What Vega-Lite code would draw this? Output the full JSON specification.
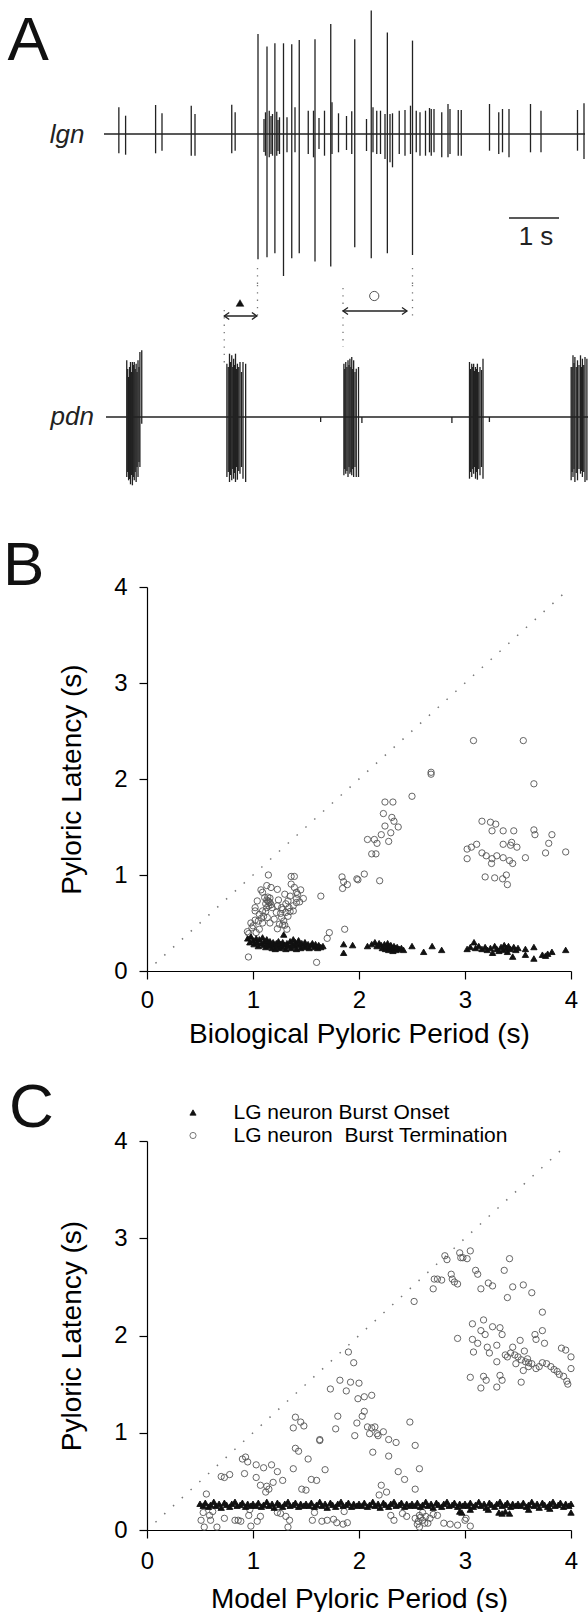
{
"$schema": "https://vega.github.io/schema/vega-lite/v6.json",
"background": "white",
"padding": {"left": 3, "top": 8, "right": 0, "bottom": 0},
"spacing": 0,
"bounds": "flush",
"center": true,
"resolve": {"scale": {"shape": "independent", "fill": "independent", "stroke": "independent"}},
"config": {"view": {"stroke": null}, "font": "Liberation Sans", "title": {"font": "Liberation Sans", "fontWeight": "normal", "color": "black"}},
"datasets": {
"lgnBase": [{"t": 0, "t2": 9.62, "v": 0}],
"pdnBase": [{"t": 0.04, "t2": 9.68, "v": 0}],
"lgnSpikes": [
{"t":0.297,"v":-19.3,"v2":26.7},{"t":0.432,"v":-20.7,"v2":18.3},{"t":1.032,"v":-19.3,"v2":29},{"t":1.16,"v":-16.7,"v2":20.7},{"t":1.745,"v":-21.7,"v2":28.3},{"t":1.82,"v":-21.7,"v2":20},{"t":2.555,"v":-19.3,"v2":29.3},{"t":2.623,"v":-16.7,"v2":21.7},
{"t":3.08,"v":-125.3,"v2":100},{"t":3.26,"v":-123.3,"v2":87.4},{"t":3.418,"v":-119.3,"v2":90.7},{"t":3.59,"v":-142,"v2":90.7},{"t":3.755,"v":-124.3,"v2":89.7},{"t":3.905,"v":-119.3,"v2":94},{"t":4.22,"v":-127.6,"v2":94.7},{"t":4.535,"v":-132.6,"v2":110},{"t":5.015,"v":-113.3,"v2":94.7},{"t":5.345,"v":-124.3,"v2":123.4},{"t":5.667,"v":-119.3,"v2":101.4},{"t":6.17,"v":-121,"v2":93.4},
{"t":3.23,"v":-21.7,"v2":21.7},{"t":3.305,"v":-23.3,"v2":23.3},{"t":3.37,"v":-21.7,"v2":20},{"t":3.455,"v":-21.7,"v2":22.3},{"t":3.51,"v":-20,"v2":16.7},{"t":3.66,"v":-18.3,"v2":16.7},{"t":3.82,"v":-18.3,"v2":26.7},{"t":4.085,"v":-20,"v2":23.3},{"t":4.19,"v":-23.3,"v2":23.3},{"t":4.41,"v":-21.7,"v2":23.3},{"t":4.56,"v":-20,"v2":31.7},{"t":4.69,"v":-18.3,"v2":20.7},{"t":4.955,"v":-20,"v2":22.7},{"t":5.38,"v":-18.3,"v2":26.7},{"t":5.455,"v":-20,"v2":23.3},{"t":5.53,"v":-20,"v2":23.3},{"t":5.62,"v":-25,"v2":20},{"t":5.72,"v":-28.3,"v2":20},{"t":5.77,"v":-33.3,"v2":20.7},{"t":5.905,"v":-20,"v2":23.3},{"t":6.02,"v":-21.7,"v2":24},{"t":6.13,"v":-20,"v2":28.3},{"t":6.245,"v":-18.3,"v2":23.3},
{"t":3.2,"v":-18,"v2":15},{"t":3.34,"v":-20,"v2":18},{"t":3.48,"v":-17,"v2":14},{"t":4.3,"v":-15,"v2":16},{"t":4.85,"v":-16,"v2":18},{"t":5.25,"v":-17,"v2":15},
{"t":6.32,"v":-21.7,"v2":21.7},{"t":6.43,"v":-21.7,"v2":23.3},{"t":6.51,"v":-18.3,"v2":26},{"t":6.545,"v":-21.7,"v2":25},{"t":6.6,"v":-18.3,"v2":25},{"t":6.755,"v":-23.3,"v2":21.7},{"t":6.88,"v":-23.3,"v2":30},{"t":6.92,"v":-20,"v2":25},{"t":7.085,"v":-21.7,"v2":24},{"t":7.145,"v":-21.7,"v2":24},{"t":7.71,"v":-16.7,"v2":30},{"t":7.895,"v":-20,"v2":21.7},{"t":7.97,"v":-18.3,"v2":25},{"t":8.1,"v":-23.3,"v2":25},{"t":8.53,"v":-18.3,"v2":30},{"t":8.74,"v":-18.3,"v2":23.3},{"t":9.47,"v":-16.7,"v2":24},{"t":9.6,"v":-25,"v2":30.7}
],
"pdnSpikes": [
{"t":0.455,"v":-60,"v2":56.7},{"t":0.492,"v":-63.3,"v2":40},{"t":0.53,"v":-67.3,"v2":55},{"t":0.568,"v":-68.3,"v2":55},{"t":0.605,"v":-63.3,"v2":55},{"t":0.643,"v":-65,"v2":53.3},{"t":0.68,"v":-60,"v2":56.7},{"t":0.718,"v":-50,"v2":65},{"t":0.755,"v":-6.7,"v2":66.7},
{"t":0.474,"v":-55,"v2":48},{"t":0.511,"v":-62,"v2":50},{"t":0.549,"v":-58,"v2":45},{"t":0.586,"v":-60,"v2":52},{"t":0.624,"v":-55,"v2":48},{"t":0.661,"v":-50,"v2":45},{"t":0.7,"v":-45,"v2":50},
{"t":2.458,"v":-60,"v2":53.3},{"t":2.51,"v":-65,"v2":63.3},{"t":2.555,"v":-63.3,"v2":61.7},{"t":2.593,"v":-61.7,"v2":58.3},{"t":2.63,"v":-65,"v2":63.3},{"t":2.668,"v":-62.7,"v2":53.3},{"t":2.72,"v":-56.7,"v2":55},{"t":2.78,"v":-61.7,"v2":55},{"t":2.833,"v":-65,"v2":53.3},
{"t":2.485,"v":-55,"v2":50},{"t":2.533,"v":-58,"v2":55},{"t":2.575,"v":-52,"v2":50},{"t":2.61,"v":-56,"v2":52},{"t":2.65,"v":-50,"v2":48},{"t":2.695,"v":-54,"v2":50},{"t":2.75,"v":-50,"v2":45},
{"t":4.798,"v":-58.3,"v2":53.3},{"t":4.835,"v":-56.7,"v2":55},{"t":4.88,"v":-60,"v2":56.7},{"t":4.918,"v":-56.7,"v2":58.3},{"t":4.955,"v":-58.3,"v2":60},{"t":4.993,"v":-60,"v2":56.7},{"t":5.045,"v":-60,"v2":48.3},{"t":5.09,"v":-60,"v2":50},
{"t":4.815,"v":-52,"v2":48},{"t":4.858,"v":-54,"v2":50},{"t":4.9,"v":-50,"v2":52},{"t":4.938,"v":-55,"v2":50},{"t":4.975,"v":-52,"v2":48},{"t":5.02,"v":-50,"v2":45},
{"t":7.31,"v":-61.7,"v2":55},{"t":7.355,"v":-60,"v2":53.3},{"t":7.393,"v":-56.7,"v2":53.3},{"t":7.43,"v":-61.7,"v2":50},{"t":7.468,"v":-62.7,"v2":53.3},{"t":7.52,"v":-58.3,"v2":50},{"t":7.58,"v":-61.7,"v2":58.3},
{"t":7.333,"v":-55,"v2":48},{"t":7.375,"v":-52,"v2":50},{"t":7.412,"v":-50,"v2":46},{"t":7.45,"v":-55,"v2":48},{"t":7.495,"v":-52,"v2":45},{"t":7.55,"v":-50,"v2":47},
{"t":9.343,"v":-63.3,"v2":50},{"t":9.38,"v":-60,"v2":61.7},{"t":9.418,"v":-65,"v2":60},{"t":9.47,"v":-63.3,"v2":56.7},{"t":9.53,"v":-56.7,"v2":61.7},{"t":9.568,"v":-60,"v2":58.3},{"t":9.62,"v":-65,"v2":60},{"t":9.658,"v":-63.3,"v2":58.3},
{"t":9.362,"v":-55,"v2":50},{"t":9.4,"v":-52,"v2":54},{"t":9.445,"v":-56,"v2":50},{"t":9.5,"v":-52,"v2":52},{"t":9.55,"v":-54,"v2":50},{"t":9.595,"v":-55,"v2":52},
{"t":4.333,"v":-5,"v2":0},{"t":5.158,"v":-6,"v2":0},{"t":6.958,"v":-6,"v2":0},{"t":7.708,"v":-5,"v2":0}
],
"lgnGuides": [{"t":3.07,"v":-134,"v2":-151},{"t":6.17,"v":-134,"v2":-151}],
"pdnGuides": [{"t":3.07,"v":132,"v2":99},{"t":6.17,"v":132,"v2":99},{"t":2.405,"v":107,"v2":52},{"t":4.78,"v":129,"v2":70}],
"arrows": [{"t":2.405,"t2":3.058,"v":101},{"t":4.78,"t2":6.06,"v":106}],
"heads": [{"t":2.405,"v":101,"dir":"left"},{"t":3.058,"v":101,"dir":"right"},{"t":4.78,"v":106,"dir":"left"},{"t":6.06,"v":106,"dir":"right"}],
"onsetMark": [{"t":2.72,"v":114}],
"termMark": [{"t":5.405,"v":121}],
"scaleBar": [{"t":8.1,"t2":9.1,"v":-84}],
"scaleText": [{"t":8.64,"v":-102.5,"label":"1 s"}],
"lgnLabel": [{"t":-0.39,"v":-1,"label":"lgn"}],
"pdnLabel": [{"t":-0.2,"v":0,"label":"pdn"}],
"panelA": [{"t":-1.93,"v":74,"label":"A"}],
"diag": [{"p":0.08,"l":0.08,"p2":3.95,"l2":3.95}],
"B": [
{"p":3.08,"l":2.40,"k":"off"},{"p":3.55,"l":2.40,"k":"off"},{"p":2.68,"l":2.07,"k":"off"},{"p":2.68,"l":2.05,"k":"off"},{"p":3.65,"l":1.95,"k":"off"},{"p":2.50,"l":1.82,"k":"off"},{"p":2.245,"l":1.76,"k":"off"},{"p":2.32,"l":1.76,"k":"off"},{"p":2.23,"l":1.64,"k":"off"},{"p":2.31,"l":1.60,"k":"off"},{"p":2.33,"l":1.56,"k":"off"},{"p":2.245,"l":1.51,"k":"off"},{"p":2.37,"l":1.50,"k":"off"},{"p":2.30,"l":1.44,"k":"off"},{"p":2.21,"l":1.42,"k":"off"},{"p":2.08,"l":1.37,"k":"off"},{"p":2.145,"l":1.37,"k":"off"},{"p":2.17,"l":1.33,"k":"off"},{"p":2.28,"l":1.35,"k":"off"},{"p":2.12,"l":1.22,"k":"off"},{"p":2.16,"l":1.22,"k":"off"},{"p":1.84,"l":0.98,"k":"off"},{"p":1.855,"l":0.93,"k":"off"},{"p":1.845,"l":0.86,"k":"off"},{"p":1.89,"l":0.90,"k":"off"},{"p":1.98,"l":0.96,"k":"off"},{"p":1.99,"l":0.95,"k":"off"},{"p":2.05,"l":1.01,"k":"off"},{"p":2.195,"l":0.94,"k":"off"},{"p":1.865,"l":0.435,"k":"off"},{"p":1.64,"l":0.78,"k":"off"},{"p":1.72,"l":0.40,"k":"off"},{"p":1.70,"l":0.34,"k":"off"},{"p":1.60,"l":0.09,"k":"off"},{"p":0.957,"l":0.146,"k":"off"},{"p":0.947,"l":0.41,"k":"off"},
{"p":3.16,"l":1.56,"k":"off"},{"p":3.24,"l":1.55,"k":"off"},{"p":3.29,"l":1.53,"k":"off"},{"p":3.255,"l":1.46,"k":"off"},{"p":3.36,"l":1.46,"k":"off"},{"p":3.46,"l":1.46,"k":"off"},{"p":3.65,"l":1.47,"k":"off"},{"p":3.66,"l":1.42,"k":"off"},{"p":3.82,"l":1.42,"k":"off"},{"p":3.02,"l":1.27,"k":"off"},{"p":3.06,"l":1.29,"k":"off"},{"p":3.11,"l":1.32,"k":"off"},{"p":3.36,"l":1.32,"k":"off"},{"p":3.44,"l":1.34,"k":"off"},{"p":3.43,"l":1.31,"k":"off"},{"p":3.49,"l":1.29,"k":"off"},{"p":3.79,"l":1.33,"k":"off"},{"p":3.16,"l":1.23,"k":"off"},{"p":3.20,"l":1.20,"k":"off"},{"p":3.255,"l":1.17,"k":"off"},{"p":3.02,"l":1.17,"k":"off"},{"p":3.30,"l":1.20,"k":"off"},{"p":3.36,"l":1.18,"k":"off"},{"p":3.42,"l":1.15,"k":"off"},{"p":3.45,"l":1.12,"k":"off"},{"p":3.25,"l":1.12,"k":"off"},{"p":3.57,"l":1.18,"k":"off"},{"p":3.76,"l":1.23,"k":"off"},{"p":3.95,"l":1.24,"k":"off"},{"p":3.19,"l":0.98,"k":"off"},{"p":3.28,"l":0.97,"k":"off"},{"p":3.355,"l":0.96,"k":"off"},{"p":3.39,"l":1.00,"k":"off"},{"p":3.40,"l":0.90,"k":"off"},
{"p":1.145,"l":1.00,"k":"off"},{"p":1.36,"l":0.985,"k":"off"},{"p":1.39,"l":0.985,"k":"off"},{"p":1.075,"l":0.845,"k":"off"},{"p":1.13,"l":0.89,"k":"off"},{"p":1.17,"l":0.87,"k":"off"},{"p":1.23,"l":0.85,"k":"off"},{"p":1.36,"l":0.905,"k":"off"},{"p":1.39,"l":0.87,"k":"off"},{"p":1.41,"l":0.82,"k":"off"},{"p":1.45,"l":0.845,"k":"off"},{"p":1.04,"l":0.73,"k":"off"},{"p":1.09,"l":0.82,"k":"off"},{"p":1.11,"l":0.765,"k":"off"},{"p":1.30,"l":0.80,"k":"off"},{"p":1.35,"l":0.78,"k":"off"},{"p":1.33,"l":0.73,"k":"off"},{"p":1.41,"l":0.755,"k":"off"},{"p":1.475,"l":0.755,"k":"off"},{"p":1.02,"l":0.626,"k":"off"},{"p":1.06,"l":0.59,"k":"off"},{"p":1.09,"l":0.626,"k":"off"},{"p":1.05,"l":0.52,"k":"off"},{"p":1.09,"l":0.50,"k":"off"},{"p":1.135,"l":0.557,"k":"off"},{"p":1.23,"l":0.68,"k":"off"},{"p":1.28,"l":0.64,"k":"off"},{"p":1.31,"l":0.61,"k":"off"},{"p":1.34,"l":0.66,"k":"off"},{"p":1.38,"l":0.68,"k":"off"},{"p":1.27,"l":0.557,"k":"off"},{"p":1.29,"l":0.52,"k":"off"},{"p":1.25,"l":0.487,"k":"off"},{"p":1.23,"l":0.44,"k":"off"},{"p":1.32,"l":0.435,"k":"off"},{"p":1.30,"l":0.477,"k":"off"},{"p":1.16,"l":0.50,"k":"off"},{"p":1.20,"l":0.54,"k":"off"},{"p":0.98,"l":0.50,"k":"off"},{"p":1.00,"l":0.47,"k":"off"},{"p":1.06,"l":0.435,"k":"off"},{"p":1.16,"l":0.713,"k":"off"},{"p":1.18,"l":0.66,"k":"off"},{"p":1.22,"l":0.61,"k":"off"},{"p":1.38,"l":0.626,"k":"off"},{"p":1.41,"l":0.713,"k":"off"},{"p":1.12,"l":0.70,"k":"off"},{"p":1.13,"l":0.74,"k":"off"},{"p":1.14,"l":0.77,"k":"off"},{"p":1.15,"l":0.72,"k":"off"},{"p":1.16,"l":0.76,"k":"off"},{"p":1.17,"l":0.69,"k":"off"},{"p":1.15,"l":0.68,"k":"off"},{"p":1.14,"l":0.73,"k":"off"},{"p":1.13,"l":0.66,"k":"off"},{"p":1.12,"l":0.62,"k":"off"},{"p":1.10,"l":0.57,"k":"off"},{"p":1.08,"l":0.55,"k":"off"},{"p":1.02,"l":0.53,"k":"off"},{"p":0.99,"l":0.45,"k":"off"},{"p":0.96,"l":0.39,"k":"off"},{"p":1.03,"l":0.40,"k":"off"},{"p":1.26,"l":0.60,"k":"off"},{"p":1.27,"l":0.66,"k":"off"},{"p":1.33,"l":0.57,"k":"off"},{"p":1.35,"l":0.62,"k":"off"},{"p":1.42,"l":0.80,"k":"off"},{"p":1.44,"l":0.72,"k":"off"},{"p":1.31,"l":0.70,"k":"off"},{"p":1.24,"l":0.74,"k":"off"},{"p":1.28,"l":0.48,"k":"off"},{"p":1.02,"l":0.66,"k":"off"},
{"p":0.95,"l":0.34,"k":"on"},{"p":0.97,"l":0.30,"k":"on"},{"p":0.98,"l":0.36,"k":"on"},{"p":1.00,"l":0.32,"k":"on"},{"p":1.01,"l":0.28,"k":"on"},{"p":1.03,"l":0.34,"k":"on"},{"p":1.04,"l":0.30,"k":"on"},{"p":1.05,"l":0.26,"k":"on"},{"p":1.06,"l":0.33,"k":"on"},{"p":1.08,"l":0.29,"k":"on"},{"p":1.09,"l":0.35,"k":"on"},{"p":1.10,"l":0.27,"k":"on"},{"p":1.11,"l":0.31,"k":"on"},{"p":1.12,"l":0.25,"k":"on"},{"p":1.13,"l":0.33,"k":"on"},{"p":1.14,"l":0.29,"k":"on"},{"p":1.15,"l":0.26,"k":"on"},{"p":1.16,"l":0.31,"k":"on"},{"p":1.17,"l":0.28,"k":"on"},{"p":1.18,"l":0.24,"k":"on"},{"p":1.19,"l":0.30,"k":"on"},{"p":1.20,"l":0.27,"k":"on"},{"p":1.21,"l":0.23,"k":"on"},{"p":1.22,"l":0.29,"k":"on"},{"p":1.23,"l":0.26,"k":"on"},{"p":1.24,"l":0.31,"k":"on"},{"p":1.25,"l":0.24,"k":"on"},{"p":1.26,"l":0.28,"k":"on"},{"p":1.27,"l":0.25,"k":"on"},{"p":1.28,"l":0.30,"k":"on"},{"p":1.29,"l":0.38,"k":"on"},{"p":1.30,"l":0.27,"k":"on"},{"p":1.31,"l":0.23,"k":"on"},{"p":1.32,"l":0.29,"k":"on"},{"p":1.33,"l":0.26,"k":"on"},{"p":1.35,"l":0.31,"k":"on"},{"p":1.36,"l":0.24,"k":"on"},{"p":1.37,"l":0.28,"k":"on"},{"p":1.38,"l":0.33,"k":"on"},{"p":1.39,"l":0.26,"k":"on"},{"p":1.40,"l":0.30,"k":"on"},{"p":1.41,"l":0.23,"k":"on"},{"p":1.42,"l":0.28,"k":"on"},{"p":1.43,"l":0.32,"k":"on"},{"p":1.44,"l":0.27,"k":"on"},{"p":1.45,"l":0.24,"k":"on"},{"p":1.46,"l":0.29,"k":"on"},{"p":1.48,"l":0.26,"k":"on"},{"p":1.49,"l":0.30,"k":"on"},{"p":1.50,"l":0.25,"k":"on"},{"p":1.52,"l":0.28,"k":"on"},{"p":1.53,"l":0.24,"k":"on"},{"p":1.55,"l":0.27,"k":"on"},{"p":1.56,"l":0.29,"k":"on"},{"p":1.58,"l":0.25,"k":"on"},{"p":1.59,"l":0.28,"k":"on"},{"p":1.61,"l":0.24,"k":"on"},{"p":1.62,"l":0.27,"k":"on"},{"p":1.64,"l":0.25,"k":"on"},{"p":1.66,"l":0.26,"k":"on"},
{"p":1.855,"l":0.28,"k":"on"},{"p":1.855,"l":0.19,"k":"on"},{"p":1.94,"l":0.27,"k":"on"},{"p":2.08,"l":0.26,"k":"on"},{"p":2.12,"l":0.28,"k":"on"},{"p":2.15,"l":0.30,"k":"on"},{"p":2.17,"l":0.26,"k":"on"},{"p":2.19,"l":0.29,"k":"on"},{"p":2.21,"l":0.27,"k":"on"},{"p":2.22,"l":0.24,"k":"on"},{"p":2.24,"l":0.28,"k":"on"},{"p":2.25,"l":0.23,"k":"on"},{"p":2.26,"l":0.26,"k":"on"},{"p":2.27,"l":0.29,"k":"on"},{"p":2.28,"l":0.22,"k":"on"},{"p":2.29,"l":0.25,"k":"on"},{"p":2.30,"l":0.27,"k":"on"},{"p":2.31,"l":0.23,"k":"on"},{"p":2.32,"l":0.21,"k":"on"},{"p":2.33,"l":0.26,"k":"on"},{"p":2.34,"l":0.24,"k":"on"},{"p":2.35,"l":0.22,"k":"on"},{"p":2.36,"l":0.25,"k":"on"},{"p":2.38,"l":0.23,"k":"on"},{"p":2.40,"l":0.24,"k":"on"},{"p":2.42,"l":0.22,"k":"on"},{"p":2.50,"l":0.26,"k":"on"},{"p":2.61,"l":0.20,"k":"on"},{"p":2.69,"l":0.26,"k":"on"},{"p":2.78,"l":0.22,"k":"on"},
{"p":3.02,"l":0.23,"k":"on"},{"p":3.05,"l":0.25,"k":"on"},{"p":3.085,"l":0.30,"k":"on"},{"p":3.10,"l":0.24,"k":"on"},{"p":3.13,"l":0.26,"k":"on"},{"p":3.16,"l":0.23,"k":"on"},{"p":3.19,"l":0.25,"k":"on"},{"p":3.21,"l":0.22,"k":"on"},{"p":3.24,"l":0.24,"k":"on"},{"p":3.26,"l":0.19,"k":"on"},{"p":3.28,"l":0.26,"k":"on"},{"p":3.30,"l":0.23,"k":"on"},{"p":3.32,"l":0.21,"k":"on"},{"p":3.34,"l":0.25,"k":"on"},{"p":3.36,"l":0.22,"k":"on"},{"p":3.37,"l":0.27,"k":"on"},{"p":3.39,"l":0.24,"k":"on"},{"p":3.40,"l":0.20,"k":"on"},{"p":3.41,"l":0.26,"k":"on"},{"p":3.43,"l":0.23,"k":"on"},{"p":3.45,"l":0.15,"k":"on"},{"p":3.46,"l":0.25,"k":"on"},{"p":3.48,"l":0.22,"k":"on"},{"p":3.50,"l":0.24,"k":"on"},{"p":3.57,"l":0.23,"k":"on"},{"p":3.57,"l":0.17,"k":"on"},{"p":3.65,"l":0.25,"k":"on"},{"p":3.65,"l":0.13,"k":"on"},{"p":3.73,"l":0.17,"k":"on"},{"p":3.76,"l":0.16,"k":"on"},{"p":3.78,"l":0.18,"k":"on"},{"p":3.82,"l":0.20,"k":"on"},{"p":3.95,"l":0.22,"k":"on"}
],
"C": [
{"p":2.81,"l":2.82,"k":"off"},{"p":2.83,"l":2.78,"k":"off"},{"p":2.95,"l":2.85,"k":"off"},{"p":2.96,"l":2.80,"k":"off"},{"p":2.98,"l":2.80,"k":"off"},{"p":3.02,"l":2.79,"k":"off"},{"p":3.05,"l":2.87,"k":"off"},{"p":3.42,"l":2.79,"k":"off"},{"p":2.71,"l":2.58,"k":"off"},{"p":2.74,"l":2.58,"k":"off"},{"p":2.78,"l":2.57,"k":"off"},{"p":2.70,"l":2.48,"k":"off"},{"p":2.87,"l":2.63,"k":"off"},{"p":2.88,"l":2.58,"k":"off"},{"p":2.90,"l":2.55,"k":"off"},{"p":2.93,"l":2.53,"k":"off"},{"p":3.10,"l":2.67,"k":"off"},{"p":3.12,"l":2.63,"k":"off"},{"p":3.15,"l":2.48,"k":"off"},{"p":3.22,"l":2.54,"k":"off"},{"p":3.26,"l":2.51,"k":"off"},{"p":3.37,"l":2.67,"k":"off"},{"p":3.40,"l":2.39,"k":"off"},{"p":3.45,"l":2.50,"k":"off"},{"p":3.55,"l":2.52,"k":"off"},{"p":3.63,"l":2.44,"k":"off"},{"p":2.52,"l":2.35,"k":"off"},{"p":3.73,"l":2.24,"k":"off"},
{"p":3.07,"l":2.12,"k":"off"},{"p":3.175,"l":2.16,"k":"off"},{"p":3.15,"l":2.05,"k":"off"},{"p":3.26,"l":2.09,"k":"off"},{"p":2.93,"l":1.97,"k":"off"},{"p":3.07,"l":1.96,"k":"off"},{"p":3.08,"l":1.83,"k":"off"},{"p":3.19,"l":2.01,"k":"off"},{"p":3.12,"l":1.92,"k":"off"},{"p":3.21,"l":1.88,"k":"off"},{"p":3.23,"l":1.82,"k":"off"},{"p":3.33,"l":2.08,"k":"off"},{"p":3.35,"l":2.01,"k":"off"},{"p":3.30,"l":1.90,"k":"off"},{"p":3.30,"l":1.73,"k":"off"},{"p":3.45,"l":1.88,"k":"off"},{"p":3.43,"l":1.82,"k":"off"},{"p":3.50,"l":1.78,"k":"off"},{"p":3.48,"l":1.71,"k":"off"},{"p":3.52,"l":1.95,"k":"off"},{"p":3.56,"l":1.84,"k":"off"},{"p":3.59,"l":1.76,"k":"off"},{"p":3.55,"l":1.64,"k":"off"},{"p":3.66,"l":2.01,"k":"off"},{"p":3.67,"l":1.96,"k":"off"},{"p":3.73,"l":2.05,"k":"off"},{"p":3.75,"l":1.92,"k":"off"},{"p":3.63,"l":1.71,"k":"off"},{"p":3.67,"l":1.66,"k":"off"},{"p":3.73,"l":1.72,"k":"off"},{"p":3.77,"l":1.71,"k":"off"},{"p":3.81,"l":1.68,"k":"off"},{"p":3.84,"l":1.65,"k":"off"},{"p":3.87,"l":1.63,"k":"off"},{"p":3.89,"l":1.60,"k":"off"},{"p":3.93,"l":1.58,"k":"off"},{"p":3.96,"l":1.53,"k":"off"},{"p":3.97,"l":1.50,"k":"off"},{"p":3.91,"l":1.87,"k":"off"},{"p":3.95,"l":1.85,"k":"off"},{"p":4.00,"l":1.78,"k":"off"},{"p":4.00,"l":1.66,"k":"off"},{"p":3.05,"l":1.57,"k":"off"},{"p":3.175,"l":1.58,"k":"off"},{"p":3.20,"l":1.54,"k":"off"},{"p":3.15,"l":1.46,"k":"off"},{"p":3.30,"l":1.47,"k":"off"},{"p":3.33,"l":1.59,"k":"off"},{"p":3.35,"l":1.54,"k":"off"},{"p":3.53,"l":1.52,"k":"off"},{"p":3.38,"l":1.80,"k":"off"},{"p":3.40,"l":1.78,"k":"off"},{"p":3.47,"l":1.80,"k":"off"},{"p":3.53,"l":1.75,"k":"off"},{"p":3.57,"l":1.73,"k":"off"},{"p":3.60,"l":1.72,"k":"off"},{"p":3.70,"l":1.68,"k":"off"},{"p":3.60,"l":1.68,"k":"off"},
{"p":1.90,"l":1.83,"k":"off"},{"p":1.95,"l":1.72,"k":"off"},{"p":1.82,"l":1.54,"k":"off"},{"p":1.92,"l":1.52,"k":"off"},{"p":2.00,"l":1.51,"k":"off"},{"p":1.73,"l":1.45,"k":"off"},{"p":1.88,"l":1.43,"k":"off"},{"p":1.99,"l":1.35,"k":"off"},{"p":2.05,"l":1.37,"k":"off"},{"p":2.12,"l":1.385,"k":"off"},{"p":2.05,"l":1.22,"k":"off"},{"p":2.03,"l":1.17,"k":"off"},{"p":1.98,"l":1.10,"k":"off"},{"p":1.96,"l":0.97,"k":"off"},{"p":1.80,"l":1.17,"k":"off"},{"p":1.78,"l":1.04,"k":"off"},{"p":1.40,"l":1.16,"k":"off"},{"p":1.45,"l":1.11,"k":"off"},{"p":1.48,"l":1.07,"k":"off"},{"p":1.38,"l":1.05,"k":"off"},{"p":2.08,"l":1.06,"k":"off"},{"p":2.12,"l":1.05,"k":"off"},{"p":2.15,"l":1.06,"k":"off"},{"p":2.10,"l":0.99,"k":"off"},{"p":2.17,"l":0.99,"k":"off"},{"p":2.18,"l":0.97,"k":"off"},{"p":2.23,"l":1.01,"k":"off"},{"p":2.28,"l":0.93,"k":"off"},{"p":2.35,"l":0.90,"k":"off"},{"p":2.48,"l":1.11,"k":"off"},{"p":2.53,"l":0.87,"k":"off"},{"p":2.13,"l":0.80,"k":"off"},{"p":2.28,"l":0.76,"k":"off"},{"p":2.37,"l":0.60,"k":"off"},{"p":2.43,"l":0.52,"k":"off"},{"p":2.57,"l":0.63,"k":"off"},{"p":2.53,"l":0.42,"k":"off"},{"p":1.63,"l":0.92,"k":"off"},{"p":1.40,"l":0.84,"k":"off"},{"p":1.43,"l":0.81,"k":"off"},{"p":1.52,"l":0.73,"k":"off"},{"p":1.38,"l":0.63,"k":"off"},{"p":1.68,"l":0.62,"k":"off"},{"p":1.55,"l":0.52,"k":"off"},{"p":1.60,"l":0.51,"k":"off"},{"p":1.46,"l":0.42,"k":"off"},{"p":1.50,"l":0.41,"k":"off"},{"p":0.90,"l":0.73,"k":"off"},{"p":0.93,"l":0.75,"k":"off"},{"p":0.95,"l":0.70,"k":"off"},{"p":1.03,"l":0.67,"k":"off"},{"p":1.10,"l":0.64,"k":"off"},{"p":1.175,"l":0.67,"k":"off"},{"p":1.23,"l":0.60,"k":"off"},{"p":0.92,"l":0.58,"k":"off"},{"p":1.03,"l":0.54,"k":"off"},{"p":1.07,"l":0.46,"k":"off"},{"p":1.19,"l":0.49,"k":"off"},{"p":1.13,"l":0.45,"k":"off"},{"p":1.12,"l":0.39,"k":"off"},{"p":1.28,"l":0.51,"k":"off"},{"p":0.70,"l":0.55,"k":"off"},{"p":0.73,"l":0.54,"k":"off"},{"p":0.78,"l":0.57,"k":"off"},{"p":0.56,"l":0.37,"k":"off"},{"p":2.21,"l":0.46,"k":"off"},{"p":2.26,"l":0.39,"k":"off"},{"p":2.19,"l":0.36,"k":"off"},{"p":1.15,"l":0.42,"k":"off"},{"p":1.63,"l":0.93,"k":"off"},
{"p":0.51,"l":0.10,"k":"off"},{"p":0.53,"l":0.18,"k":"off"},{"p":0.54,"l":0.03,"k":"off"},{"p":0.59,"l":0.15,"k":"off"},{"p":0.62,"l":0.19,"k":"off"},{"p":0.60,"l":0.10,"k":"off"},{"p":0.66,"l":0.03,"k":"off"},{"p":0.73,"l":0.12,"k":"off"},{"p":0.83,"l":0.10,"k":"off"},{"p":0.86,"l":0.10,"k":"off"},{"p":0.885,"l":0.09,"k":"off"},{"p":0.97,"l":0.21,"k":"off"},{"p":0.96,"l":0.15,"k":"off"},{"p":0.98,"l":0.04,"k":"off"},{"p":1.04,"l":0.09,"k":"off"},{"p":1.07,"l":0.14,"k":"off"},{"p":1.23,"l":0.18,"k":"off"},{"p":1.26,"l":0.17,"k":"off"},{"p":1.31,"l":0.14,"k":"off"},{"p":1.345,"l":0.10,"k":"off"},{"p":1.33,"l":0.03,"k":"off"},{"p":1.58,"l":0.18,"k":"off"},{"p":1.56,"l":0.10,"k":"off"},{"p":1.65,"l":0.09,"k":"off"},{"p":1.70,"l":0.10,"k":"off"},{"p":1.76,"l":0.11,"k":"off"},{"p":1.79,"l":0.075,"k":"off"},{"p":1.85,"l":0.06,"k":"off"},{"p":1.89,"l":0.075,"k":"off"},{"p":1.86,"l":0.19,"k":"off"},{"p":2.30,"l":0.15,"k":"off"},{"p":2.33,"l":0.10,"k":"off"},{"p":2.41,"l":0.17,"k":"off"},{"p":2.45,"l":0.14,"k":"off"},{"p":2.53,"l":0.12,"k":"off"},{"p":2.56,"l":0.09,"k":"off"},{"p":2.57,"l":0.03,"k":"off"},{"p":2.60,"l":0.10,"k":"off"},{"p":2.62,"l":0.07,"k":"off"},{"p":2.65,"l":0.07,"k":"off"},{"p":2.67,"l":0.12,"k":"off"},{"p":2.74,"l":0.15,"k":"off"},{"p":2.80,"l":0.07,"k":"off"},{"p":2.86,"l":0.06,"k":"off"},{"p":2.93,"l":0.05,"k":"off"},{"p":3.00,"l":0.10,"k":"off"},{"p":3.01,"l":0.12,"k":"off"},{"p":3.05,"l":0.04,"k":"off"},{"p":2.57,"l":0.15,"k":"off"},{"p":2.60,"l":0.18,"k":"off"},{"p":2.55,"l":0.06,"k":"off"},{"p":2.58,"l":0.13,"k":"off"},{"p":2.63,"l":0.14,"k":"off"},{"p":2.70,"l":0.16,"k":"off"},
{"p":0.50,"l":0.27,"k":"on"},{"p":0.53,"l":0.25,"k":"on"},{"p":0.55,"l":0.28,"k":"on"},{"p":0.58,"l":0.24,"k":"on"},{"p":0.60,"l":0.26,"k":"on"},{"p":0.63,"l":0.29,"k":"on"},{"p":0.65,"l":0.25,"k":"on"},{"p":0.68,"l":0.27,"k":"on"},{"p":0.70,"l":0.23,"k":"on"},{"p":0.73,"l":0.28,"k":"on"},{"p":0.75,"l":0.26,"k":"on"},{"p":0.78,"l":0.24,"k":"on"},{"p":0.80,"l":0.27,"k":"on"},{"p":0.83,"l":0.29,"k":"on"},{"p":0.85,"l":0.25,"k":"on"},{"p":0.88,"l":0.26,"k":"on"},{"p":0.90,"l":0.28,"k":"on"},{"p":0.93,"l":0.24,"k":"on"},{"p":0.95,"l":0.27,"k":"on"},{"p":0.98,"l":0.25,"k":"on"},
{"p":1.00,"l":0.27,"k":"on"},{"p":1.03,"l":0.25,"k":"on"},{"p":1.05,"l":0.28,"k":"on"},{"p":1.08,"l":0.24,"k":"on"},{"p":1.10,"l":0.26,"k":"on"},{"p":1.13,"l":0.29,"k":"on"},{"p":1.15,"l":0.25,"k":"on"},{"p":1.18,"l":0.27,"k":"on"},{"p":1.20,"l":0.23,"k":"on"},{"p":1.23,"l":0.28,"k":"on"},{"p":1.25,"l":0.26,"k":"on"},{"p":1.28,"l":0.24,"k":"on"},{"p":1.30,"l":0.27,"k":"on"},{"p":1.33,"l":0.29,"k":"on"},{"p":1.35,"l":0.25,"k":"on"},{"p":1.38,"l":0.26,"k":"on"},{"p":1.40,"l":0.28,"k":"on"},{"p":1.43,"l":0.24,"k":"on"},{"p":1.45,"l":0.27,"k":"on"},{"p":1.48,"l":0.25,"k":"on"},
{"p":1.50,"l":0.27,"k":"on"},{"p":1.53,"l":0.25,"k":"on"},{"p":1.55,"l":0.28,"k":"on"},{"p":1.58,"l":0.24,"k":"on"},{"p":1.60,"l":0.26,"k":"on"},{"p":1.63,"l":0.29,"k":"on"},{"p":1.65,"l":0.25,"k":"on"},{"p":1.68,"l":0.27,"k":"on"},{"p":1.70,"l":0.23,"k":"on"},{"p":1.73,"l":0.28,"k":"on"},{"p":1.75,"l":0.26,"k":"on"},{"p":1.78,"l":0.24,"k":"on"},{"p":1.80,"l":0.27,"k":"on"},{"p":1.83,"l":0.29,"k":"on"},{"p":1.85,"l":0.25,"k":"on"},{"p":1.88,"l":0.26,"k":"on"},{"p":1.90,"l":0.28,"k":"on"},{"p":1.93,"l":0.24,"k":"on"},{"p":1.95,"l":0.27,"k":"on"},{"p":1.98,"l":0.25,"k":"on"},
{"p":2.00,"l":0.27,"k":"on"},{"p":2.03,"l":0.25,"k":"on"},{"p":2.05,"l":0.28,"k":"on"},{"p":2.08,"l":0.24,"k":"on"},{"p":2.10,"l":0.26,"k":"on"},{"p":2.13,"l":0.29,"k":"on"},{"p":2.15,"l":0.25,"k":"on"},{"p":2.18,"l":0.27,"k":"on"},{"p":2.20,"l":0.23,"k":"on"},{"p":2.23,"l":0.28,"k":"on"},{"p":2.25,"l":0.26,"k":"on"},{"p":2.28,"l":0.24,"k":"on"},{"p":2.30,"l":0.27,"k":"on"},{"p":2.33,"l":0.29,"k":"on"},{"p":2.35,"l":0.25,"k":"on"},{"p":2.38,"l":0.26,"k":"on"},{"p":2.40,"l":0.28,"k":"on"},{"p":2.43,"l":0.24,"k":"on"},{"p":2.45,"l":0.27,"k":"on"},{"p":2.48,"l":0.25,"k":"on"},
{"p":2.50,"l":0.27,"k":"on"},{"p":2.53,"l":0.25,"k":"on"},{"p":2.55,"l":0.28,"k":"on"},{"p":2.58,"l":0.24,"k":"on"},{"p":2.60,"l":0.26,"k":"on"},{"p":2.63,"l":0.29,"k":"on"},{"p":2.65,"l":0.25,"k":"on"},{"p":2.68,"l":0.27,"k":"on"},{"p":2.70,"l":0.23,"k":"on"},{"p":2.73,"l":0.28,"k":"on"},{"p":2.75,"l":0.26,"k":"on"},{"p":2.78,"l":0.24,"k":"on"},{"p":2.80,"l":0.27,"k":"on"},{"p":2.83,"l":0.29,"k":"on"},{"p":2.85,"l":0.25,"k":"on"},{"p":2.88,"l":0.26,"k":"on"},{"p":2.90,"l":0.28,"k":"on"},{"p":2.93,"l":0.24,"k":"on"},{"p":2.95,"l":0.27,"k":"on"},{"p":2.98,"l":0.25,"k":"on"},
{"p":3.00,"l":0.27,"k":"on"},{"p":3.03,"l":0.25,"k":"on"},{"p":3.05,"l":0.28,"k":"on"},{"p":3.08,"l":0.24,"k":"on"},{"p":3.10,"l":0.26,"k":"on"},{"p":3.13,"l":0.29,"k":"on"},{"p":3.15,"l":0.25,"k":"on"},{"p":3.18,"l":0.27,"k":"on"},{"p":3.20,"l":0.23,"k":"on"},{"p":3.23,"l":0.28,"k":"on"},{"p":3.25,"l":0.26,"k":"on"},{"p":3.28,"l":0.24,"k":"on"},{"p":3.30,"l":0.27,"k":"on"},{"p":3.33,"l":0.29,"k":"on"},{"p":3.35,"l":0.25,"k":"on"},{"p":3.38,"l":0.26,"k":"on"},{"p":3.40,"l":0.28,"k":"on"},{"p":3.43,"l":0.24,"k":"on"},{"p":3.45,"l":0.27,"k":"on"},{"p":3.48,"l":0.25,"k":"on"},
{"p":3.50,"l":0.27,"k":"on"},{"p":3.53,"l":0.25,"k":"on"},{"p":3.55,"l":0.28,"k":"on"},{"p":3.58,"l":0.24,"k":"on"},{"p":3.60,"l":0.26,"k":"on"},{"p":3.63,"l":0.29,"k":"on"},{"p":3.65,"l":0.25,"k":"on"},{"p":3.68,"l":0.27,"k":"on"},{"p":3.70,"l":0.23,"k":"on"},{"p":3.73,"l":0.28,"k":"on"},{"p":3.75,"l":0.26,"k":"on"},{"p":3.78,"l":0.24,"k":"on"},{"p":3.80,"l":0.27,"k":"on"},{"p":3.83,"l":0.29,"k":"on"},{"p":3.85,"l":0.25,"k":"on"},{"p":3.88,"l":0.26,"k":"on"},{"p":3.90,"l":0.28,"k":"on"},{"p":3.93,"l":0.24,"k":"on"},{"p":3.95,"l":0.27,"k":"on"},{"p":3.98,"l":0.25,"k":"on"},{"p":4.00,"l":0.27,"k":"on"},
{"p":2.95,"l":0.19,"k":"on"},{"p":2.97,"l":0.18,"k":"on"},{"p":3.32,"l":0.18,"k":"on"},{"p":3.35,"l":0.17,"k":"on"},{"p":3.38,"l":0.19,"k":"on"},{"p":3.42,"l":0.17,"k":"on"},{"p":4.00,"l":0.18,"k":"on"},{"p":3.05,"l":0.21,"k":"on"},{"p":3.22,"l":0.21,"k":"on"},{"p":3.60,"l":0.21,"k":"on"},{"p":3.80,"l":0.22,"k":"on"}
]
},
"vconcat": [
{
"width": 510, "height": 277,
"encoding": {
 "x": {"field": "t", "type": "quantitative", "scale": {"domain": [0, 10.2], "nice": false, "zero": false}, "axis": null},
 "y": {"field": "v", "type": "quantitative", "scale": {"domain": [-151, 126], "nice": false, "zero": false}, "axis": null}
},
"layer": [
 {"data": {"name": "lgnBase"}, "mark": {"type": "rule", "stroke": "#222", "strokeWidth": 1.4}, "encoding": {"x2": {"field": "t2"}}},
 {"data": {"name": "lgnSpikes"}, "mark": {"type": "rule", "stroke": "#222", "strokeWidth": 1.3}, "encoding": {"y2": {"field": "v2"}}},
 {"data": {"name": "lgnGuides"}, "mark": {"type": "rule", "stroke": "#777", "strokeWidth": 1.3, "strokeDash": [1.3, 6]}, "encoding": {"y2": {"field": "v2"}}},
 {"data": {"name": "scaleBar"}, "mark": {"type": "rule", "stroke": "#222", "strokeWidth": 1.6}, "encoding": {"x2": {"field": "t2"}}},
 {"data": {"name": "scaleText"}, "mark": {"type": "text", "fontSize": 26, "align": "center", "baseline": "middle", "color": "#222"}, "encoding": {"text": {"field": "label"}}},
 {"data": {"name": "lgnLabel"}, "mark": {"type": "text", "fontSize": 26, "fontStyle": "italic", "align": "right", "baseline": "middle", "color": "#222"}, "encoding": {"text": {"field": "label"}}},
 {"data": {"name": "panelA"}, "mark": {"type": "text", "fontSize": 62, "align": "left", "baseline": "alphabetic", "color": "#111"}, "encoding": {"text": {"field": "label"}}}
]
},
{
"width": 510, "height": 302,
"title": {"text": "B", "orient": "bottom", "anchor": "start", "frame": "group", "fontSize": 62, "baseline": "alphabetic", "offset": 0, "dx": -101, "dy": -2, "color": "#111"},
"encoding": {
 "x": {"field": "t", "type": "quantitative", "scale": {"domain": [0, 10.2], "nice": false, "zero": false}, "axis": null},
 "y": {"field": "v", "type": "quantitative", "scale": {"domain": [-170, 132], "nice": false, "zero": false}, "axis": null}
},
"layer": [
 {"data": {"name": "pdnBase"}, "mark": {"type": "rule", "stroke": "#222", "strokeWidth": 1.4}, "encoding": {"x2": {"field": "t2"}}},
 {"data": {"name": "pdnSpikes"}, "mark": {"type": "rule", "stroke": "#222", "strokeWidth": 1.3}, "encoding": {"y2": {"field": "v2"}}},
 {"data": {"name": "pdnGuides"}, "mark": {"type": "rule", "stroke": "#777", "strokeWidth": 1.3, "strokeDash": [1.3, 6]}, "encoding": {"y2": {"field": "v2"}}},
 {"data": {"name": "arrows"}, "mark": {"type": "rule", "stroke": "#222", "strokeWidth": 1.3}, "encoding": {"x2": {"field": "t2"}}},
 {"data": {"name": "heads"}, "mark": {"type": "point", "filled": false, "stroke": "#222", "strokeWidth": 1.3, "size": 100, "opacity": 1}, "encoding": {"shape": {"field": "dir", "type": "nominal", "scale": {"domain": ["left", "right"], "range": ["M 1 -0.7 L 0 0 L 1 0.7", "M -1 -0.7 L 0 0 L -1 0.7"]}, "legend": null}}},
 {"data": {"name": "onsetMark"}, "mark": {"type": "point", "shape": "triangle-up", "filled": true, "fill": "#111", "stroke": "#111", "strokeWidth": 0.5, "size": 60, "opacity": 1}},
 {"data": {"name": "termMark"}, "mark": {"type": "point", "shape": "circle", "filled": false, "stroke": "#555", "strokeWidth": 1, "size": 85, "opacity": 1}},
 {"data": {"name": "pdnLabel"}, "mark": {"type": "text", "fontSize": 26, "fontStyle": "italic", "align": "right", "baseline": "middle", "color": "#222"}, "encoding": {"text": {"field": "label"}}}
]
},
{
"width": 424, "height": 384,
"encoding": {
 "x": {"field": "p", "type": "quantitative", "scale": {"domain": [0, 4], "nice": false, "zero": false},
   "axis": {"title": "Biological Pyloric Period (s)", "values": [0, 1, 2, 3, 4], "format": "d", "grid": false, "domainColor": "black", "domainWidth": 1.2, "tickColor": "black", "tickWidth": 1.2, "tickSize": 8, "labelFontSize": 24, "labelColor": "black", "labelPadding": 9, "labelFlush": false, "titleFontSize": 28, "titleFontWeight": "normal", "titleColor": "black", "titlePadding": 8}},
 "y": {"field": "l", "type": "quantitative", "scale": {"domain": [0, 4], "nice": false, "zero": false},
   "axis": {"title": "Pyloric Latency (s)", "values": [0, 1, 2, 3, 4], "format": "d", "grid": false, "domainColor": "black", "domainWidth": 1.2, "tickColor": "black", "tickWidth": 1.2, "tickSize": 8, "labelFontSize": 24, "labelColor": "black", "labelPadding": 12, "labelFlush": false, "titleFontSize": 28, "titleFontWeight": "normal", "titleColor": "black", "titlePadding": 27}}
},
"layer": [
 {"data": {"name": "diag"}, "mark": {"type": "rule", "stroke": "#777", "strokeWidth": 1.5, "strokeDash": [1.5, 10.4]}, "encoding": {"x2": {"field": "p2"}, "y2": {"field": "l2"}}},
 {"data": {"name": "B"}, "mark": {"type": "point", "filled": true, "size": 40, "strokeWidth": 0.9, "opacity": 1},
  "encoding": {
   "shape": {"field": "k", "type": "nominal", "scale": {"domain": ["on", "off"], "range": ["triangle-up", "circle"]}, "legend": null},
   "fill": {"field": "k", "type": "nominal", "scale": {"domain": ["on", "off"], "range": ["#111", "transparent"]}, "legend": null},
   "stroke": {"field": "k", "type": "nominal", "scale": {"domain": ["on", "off"], "range": ["#111", "#555"]}, "legend": null}
  }}
]
},
{
"width": 510, "height": 170,
"title": {"text": "C", "orient": "bottom", "anchor": "start", "frame": "group", "fontSize": 62, "baseline": "alphabetic", "offset": 0, "dx": -95, "dy": -14, "color": "#111"},
"data": {"values": []},
"mark": "point",
"encoding": {}
},
{
"width": 424, "height": 389,
"encoding": {
 "x": {"field": "p", "type": "quantitative", "scale": {"domain": [0, 4], "nice": false, "zero": false},
   "axis": {"title": "Model Pyloric Period (s)", "values": [0, 1, 2, 3, 4], "format": "d", "grid": false, "domainColor": "black", "domainWidth": 1.2, "tickColor": "black", "tickWidth": 1.2, "tickSize": 8, "labelFontSize": 24, "labelColor": "black", "labelPadding": 11, "labelFlush": false, "titleFontSize": 28, "titleFontWeight": "normal", "titleColor": "black", "titlePadding": 12}},
 "y": {"field": "l", "type": "quantitative", "scale": {"domain": [0, 4], "nice": false, "zero": false},
   "axis": {"title": "Pyloric Latency (s)", "values": [0, 1, 2, 3, 4], "format": "d", "grid": false, "domainColor": "black", "domainWidth": 1.2, "tickColor": "black", "tickWidth": 1.2, "tickSize": 8, "labelFontSize": 24, "labelColor": "black", "labelPadding": 12, "labelFlush": false, "titleFontSize": 28, "titleFontWeight": "normal", "titleColor": "black", "titlePadding": 27}}
},
"layer": [
 {"data": {"name": "diag"}, "mark": {"type": "rule", "stroke": "#777", "strokeWidth": 1.5, "strokeDash": [1.5, 10.4]}, "encoding": {"x2": {"field": "p2"}, "y2": {"field": "l2"}}},
 {"data": {"name": "C"}, "mark": {"type": "point", "filled": true, "size": 40, "strokeWidth": 0.9, "opacity": 1},
  "encoding": {
   "shape": {"field": "k", "type": "nominal", "scale": {"domain": ["on", "off"], "range": ["triangle-up", "circle"]},
     "legend": {"title": null, "orient": "none", "legendX": 35.5, "legendY": -39, "direction": "vertical", "padding": 0, "labelFontSize": 21, "labelColor": "black", "labelFont": "Liberation Sans", "labelLimit": 500, "labelOffset": 30, "rowPadding": 1, "symbolSize": 38, "symbolStrokeWidth": 0.8, "labelExpr": "datum.label == 'on' ? 'LG neuron Burst Onset' : 'LG neuron\u00a0 Burst Termination'"}},
   "fill": {"field": "k", "type": "nominal", "scale": {"domain": ["on", "off"], "range": ["#111", "transparent"]},
     "legend": {"title": null, "orient": "none", "legendX": 35.5, "legendY": -39, "direction": "vertical", "padding": 0, "labelFontSize": 21, "labelColor": "black", "labelFont": "Liberation Sans", "labelLimit": 500, "labelOffset": 30, "rowPadding": 1, "symbolSize": 38, "symbolStrokeWidth": 0.8, "labelExpr": "datum.label == 'on' ? 'LG neuron Burst Onset' : 'LG neuron\u00a0 Burst Termination'"}},
   "stroke": {"field": "k", "type": "nominal", "scale": {"domain": ["on", "off"], "range": ["#111", "#555"]},
     "legend": {"title": null, "orient": "none", "legendX": 35.5, "legendY": -39, "direction": "vertical", "padding": 0, "labelFontSize": 21, "labelColor": "black", "labelFont": "Liberation Sans", "labelLimit": 500, "labelOffset": 30, "rowPadding": 1, "symbolSize": 38, "symbolStrokeWidth": 0.8, "labelExpr": "datum.label == 'on' ? 'LG neuron Burst Onset' : 'LG neuron\u00a0 Burst Termination'"}}
  }}
]
}
]
}
